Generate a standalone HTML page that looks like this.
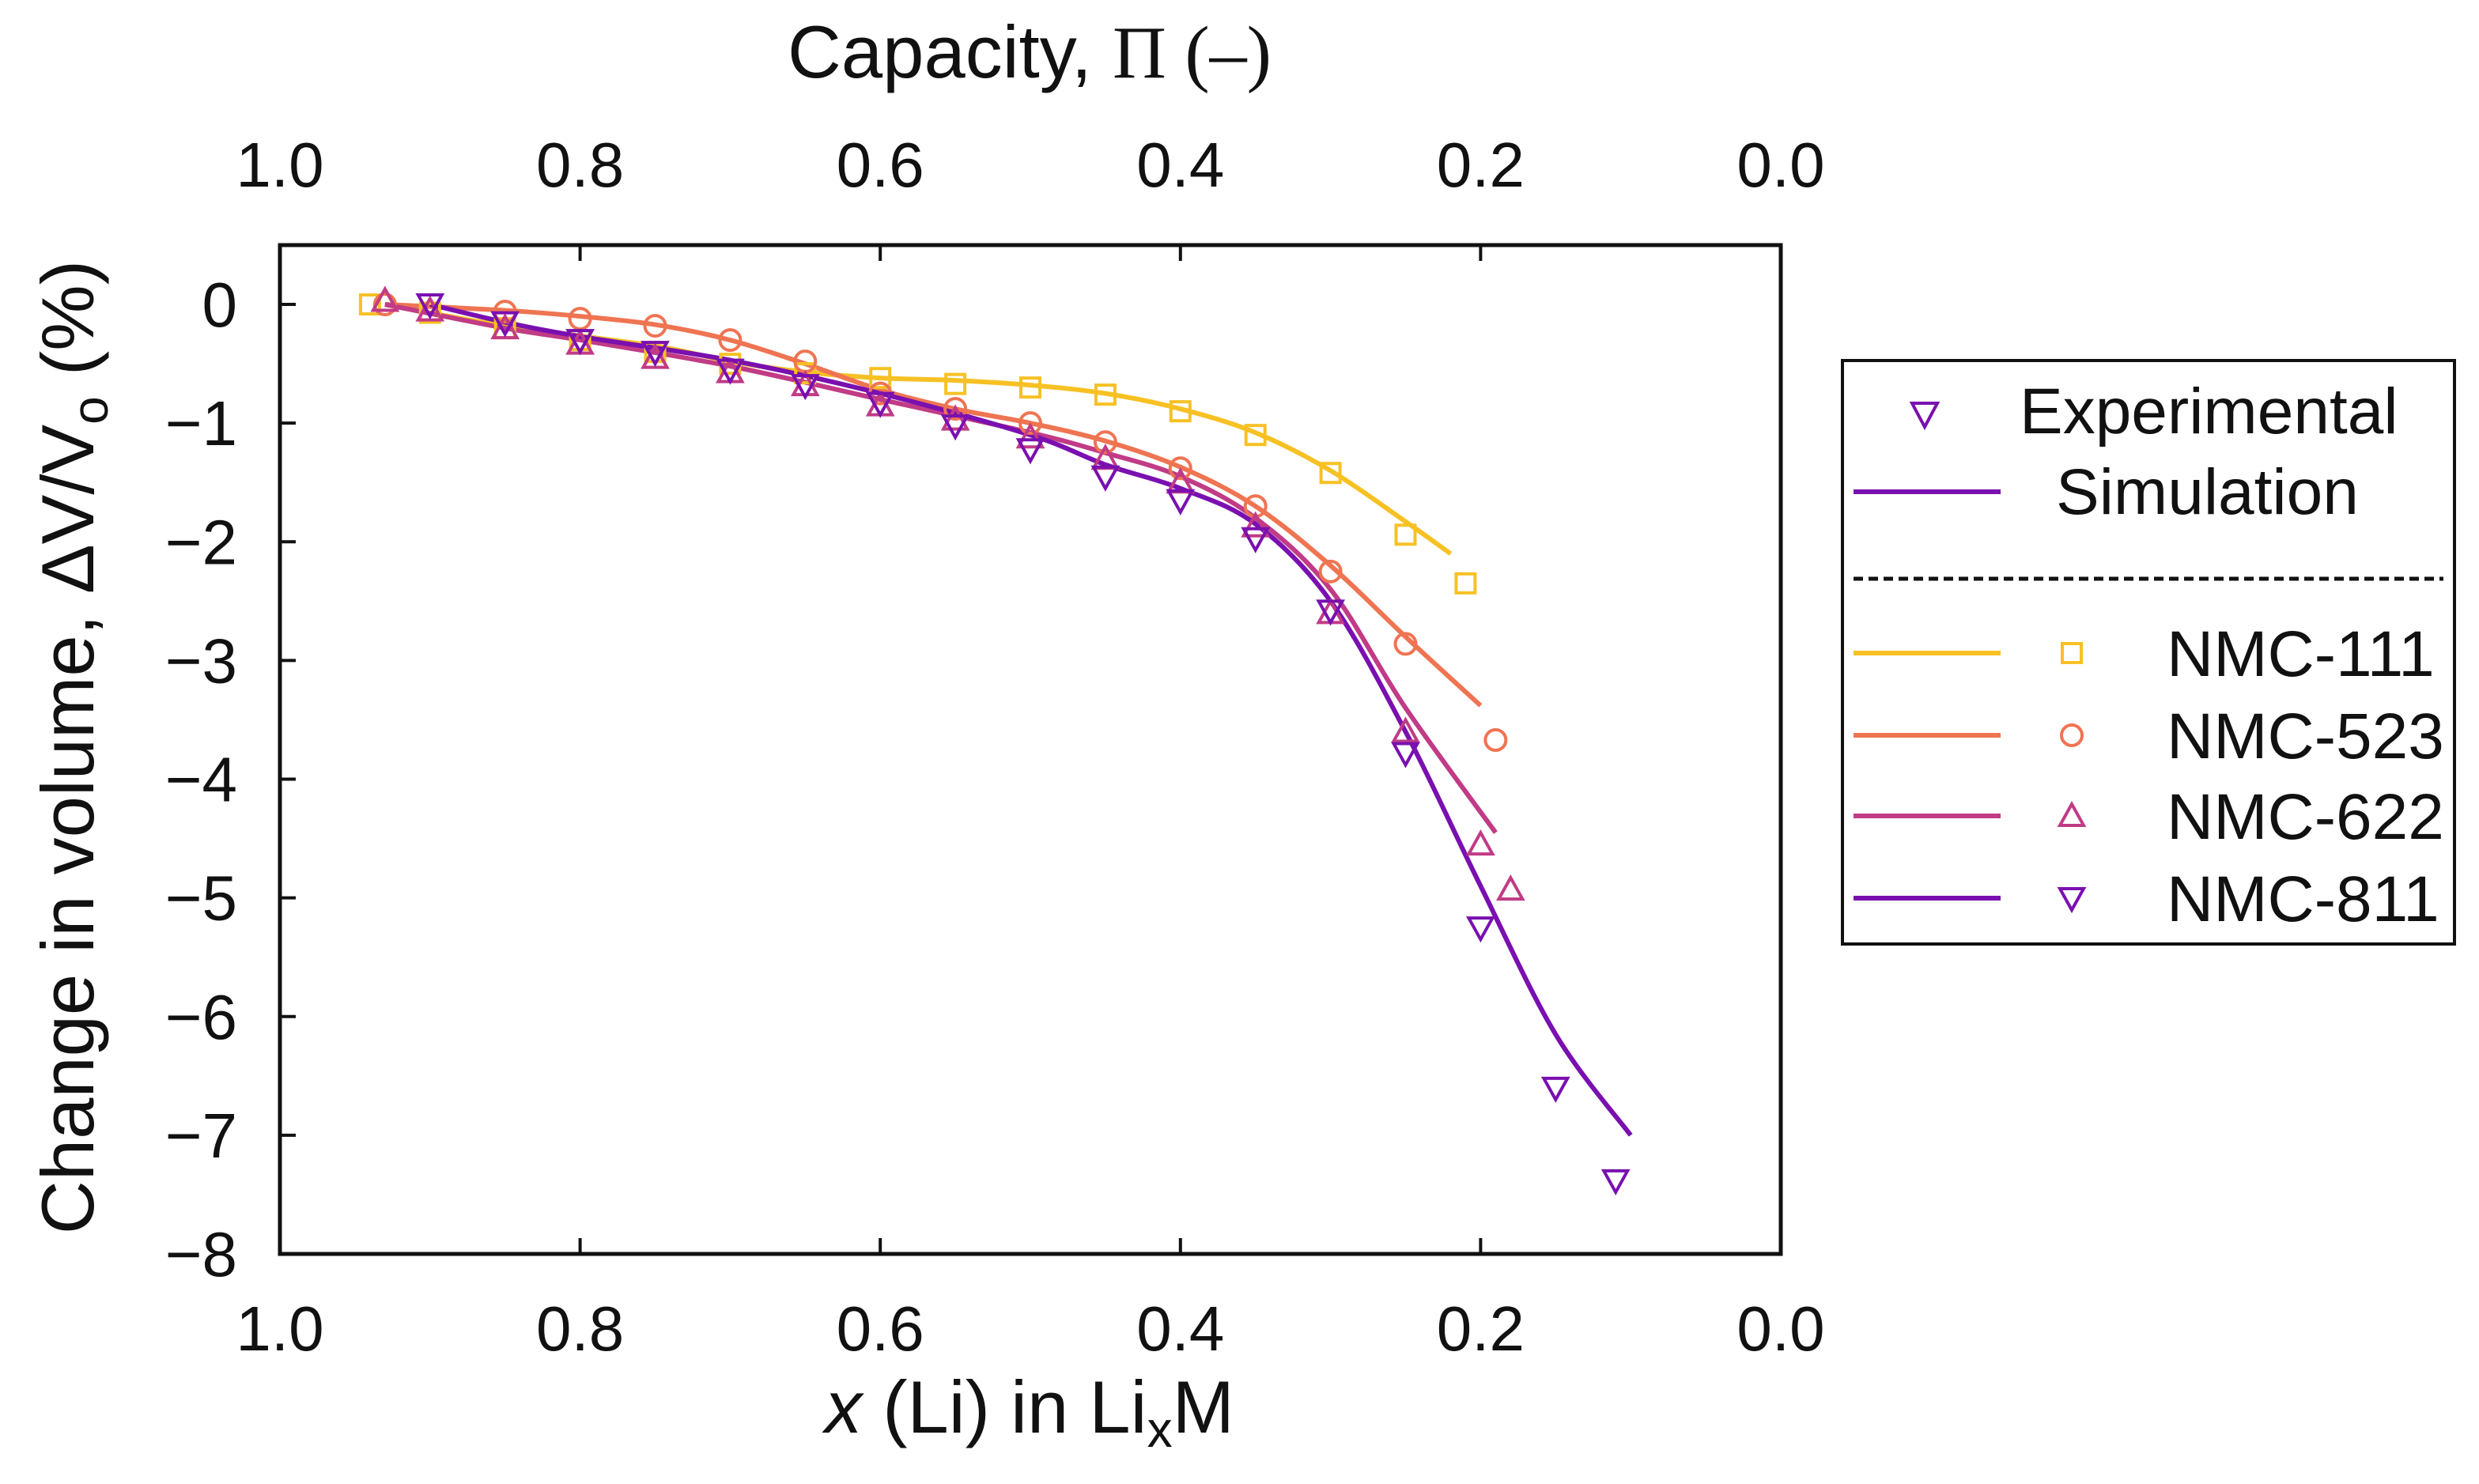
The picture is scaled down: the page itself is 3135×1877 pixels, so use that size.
<!DOCTYPE html>
<html><head><meta charset="utf-8"><style>html,body{margin:0;padding:0;background:#fff}svg{display:block}text{font-family:"Liberation Sans",sans-serif;fill:#111}</style></head>
<body>
<svg id="chart" width="3135" height="1877" viewBox="0 0 3135 1877" xmlns="http://www.w3.org/2000/svg">
<g id="plot"></g>
<g id="legend">
<rect x="2330" y="456" width="774" height="738" fill="#fff" stroke="#111" stroke-width="4"/>
<path d="M2418,510 L2450,510 L2434,540 Z" fill="none" stroke="#7a10b0" stroke-width="4"/>
<text x="2554" y="548" font-size="82">Experimental</text>
<line x1="2344" y1="622" x2="2530" y2="622" stroke="#7a10b0" stroke-width="6"/>
<text x="2600" y="650" font-size="82">Simulation</text>
<line x1="2344" y1="732" x2="3090" y2="732" stroke="#111" stroke-width="5" stroke-dasharray="12,7"/>
</g>
</svg>
<script>
const categories=["NMC-111","NMC-523","NMC-622","NMC-811"];
const colors=["#f7c124","#ef7452","#c13b86","#7a10b0"];
const markers=["square","circle","up","down"];
const exp111x=[0.94,0.9,0.85,0.8,0.75,0.7,0.65,0.6,0.55,0.5,0.45,0.4,0.35,0.3,0.25,0.21];
const exp111y=[0,-0.07,-0.2,-0.3,-0.4,-0.5,-0.58,-0.62,-0.67,-0.7,-0.76,-0.9,-1.1,-1.42,-1.94,-2.35];
const exp523x=[0.93,0.85,0.8,0.75,0.7,0.65,0.6,0.55,0.5,0.45,0.4,0.35,0.3,0.25,0.19];
const exp523y=[0,-0.06,-0.12,-0.18,-0.3,-0.48,-0.75,-0.88,-1.0,-1.16,-1.38,-1.7,-2.25,-2.86,-3.67];
const exp622x=[0.93,0.9,0.85,0.8,0.75,0.7,0.65,0.6,0.55,0.5,0.45,0.4,0.35,0.3,0.25,0.2,0.18];
const exp622y=[0.03,-0.05,-0.2,-0.33,-0.45,-0.57,-0.68,-0.85,-0.97,-1.12,-1.3,-1.5,-1.87,-2.6,-3.6,-4.55,-4.93];
const exp811x=[0.9,0.85,0.8,0.75,0.7,0.65,0.6,0.55,0.5,0.45,0.4,0.35,0.3,0.25,0.2,0.15,0.11];
const exp811y=[0,-0.15,-0.3,-0.4,-0.55,-0.68,-0.83,-1.02,-1.22,-1.45,-1.65,-1.97,-2.58,-3.78,-5.25,-6.6,-7.38];
const sim111x=[0.93,0.85,0.75,0.7,0.65,0.6,0.55,0.5,0.45,0.4,0.35,0.3,0.25,0.22];
const sim111y=[0,-0.18,-0.35,-0.48,-0.57,-0.62,-0.64,-0.68,-0.75,-0.88,-1.08,-1.4,-1.83,-2.1];
const sim523x=[0.93,0.85,0.8,0.75,0.7,0.65,0.6,0.55,0.5,0.45,0.4,0.35,0.3,0.25,0.2];
const sim523y=[0,-0.05,-0.1,-0.17,-0.3,-0.5,-0.72,-0.88,-1.0,-1.15,-1.37,-1.7,-2.2,-2.8,-3.38];
const sim622x=[0.93,0.85,0.8,0.7,0.6,0.5,0.45,0.4,0.35,0.3,0.25,0.19];
const sim622y=[0,-0.2,-0.3,-0.52,-0.8,-1.08,-1.25,-1.45,-1.8,-2.4,-3.4,-4.45];
const sim811x=[0.9,0.85,0.8,0.7,0.6,0.5,0.45,0.4,0.35,0.3,0.25,0.2,0.15,0.1];
const sim811y=[0,-0.15,-0.27,-0.47,-0.75,-1.1,-1.35,-1.55,-1.85,-2.5,-3.6,-4.9,-6.15,-7.0];
const xTicks=["1.0","0.8","0.6","0.4","0.2","0.0"];
const xTickVals=[1,0.8,0.6,0.4,0.2,0];
const yTickVals=[0,-1,-2,-3,-4,-5,-6,-7,-8];
const yTicks=["0","\u22121","\u22122","\u22123","\u22124","\u22125","\u22126","\u22127","\u22128"];

const L=354,R=2252,T=310,B=1586,YMAX=0.5,YMIN=-8;
const sx=v=>L+(1-v)*(R-L);
const sy=v=>T+(YMAX-v)/(YMAX-YMIN)*(B-T);
const NS="http://www.w3.org/2000/svg";
const plot=document.getElementById('plot');
function mk(tag,attrs,parent){const e=document.createElementNS(NS,tag);for(const k in attrs)e.setAttribute(k,attrs[k]);(parent||plot).appendChild(e);return e;}
function marker(type,cx,cy,color,parent){
  let e;
  if(type==="square")e=mk('rect',{x:cx-12,y:cy-12,width:24,height:24},parent);
  else if(type==="circle")e=mk('circle',{cx:cx,cy:cy,r:13},parent);
  else if(type==="up")e=mk('path',{d:`M${cx-15},${cy+12} L${cx+15},${cy+12} L${cx},${cy-15} Z`},parent);
  else e=mk('path',{d:`M${cx-15},${cy-12} L${cx+15},${cy-12} L${cx},${cy+15} Z`},parent);
  e.setAttribute('fill','none');e.setAttribute('stroke',color);e.setAttribute('stroke-width','4');
  return e;
}
function smooth(px,py){
  const p=px.map((x,i)=>[sx(x),sy(py[i])]);
  let d=`M${p[0][0]},${p[0][1]}`;
  for(let i=0;i<p.length-1;i++){
    const p0=p[i-1]||p[i],p1=p[i],p2=p[i+1],p3=p[i+2]||p2;
    const c1=[p1[0]+(p2[0]-p0[0])/6,p1[1]+(p2[1]-p0[1])/6];
    const c2=[p2[0]-(p3[0]-p1[0])/6,p2[1]-(p3[1]-p1[1])/6];
    d+=` C${c1[0]},${c1[1]} ${c2[0]},${c2[1]} ${p2[0]},${p2[1]}`;
  }
  return d;
}
const frame=mk('rect',{x:L,y:T,width:R-L,height:B-T,fill:'none',stroke:'#111','stroke-width':5});


xTickVals.forEach((v,i)=>{
  const x=sx(v);
  mk('line',{x1:x,y1:B,x2:x,y2:B-20,stroke:'#111','stroke-width':4});
  mk('line',{x1:x,y1:T,x2:x,y2:T+20,stroke:'#111','stroke-width':4});
  const t=mk('text',{x:x,y:1708,'font-size':80,'text-anchor':'middle'});t.textContent=xTicks[i];
  
  
  const t2=mk('text',{x:x,y:236,'font-size':80,'text-anchor':'middle'});t2.textContent=xTicks[i];
  
  
});
yTickVals.forEach((v,i)=>{
  const y=sy(v);
  mk('line',{x1:L,y1:y,x2:L+20,y2:y,stroke:'#111','stroke-width':4});
  const t=mk('text',{x:300,y:y+28,'font-size':80,'text-anchor':'end'});t.textContent=yTicks[i];
  
  
});
const sims=[[sim111x,sim111y],[sim523x,sim523y],[sim622x,sim622y],[sim811x,sim811y]];
const exps=[[exp111x,exp111y],[exp523x,exp523y],[exp622x,exp622y],[exp811x,exp811y]];
sims.forEach((s,i)=>{
  const p=mk('path',{d:smooth(s[0],s[1]),fill:'none',stroke:colors[i],'stroke-width':6});
  
  
});
exps.forEach((s,i)=>{
  s[0].forEach((x,j)=>{
    const m=marker(markers[i],sx(x),sy(s[1][j]),colors[i]);
    
    
  });
});
let t=mk('text',{x:1302,y:98,'font-size':94,'text-anchor':'middle'});
t.innerHTML='Capacity, <tspan font-family="Liberation Serif">\u03A0 (\u2013)</tspan>';


t=mk('text',{x:1302,y:1812,'font-size':94,'text-anchor':'middle'});
t.innerHTML='<tspan font-style="italic">x</tspan> (Li) in Li<tspan font-size="64" dy="18">x</tspan><tspan dy="-18">M</tspan>';


t=mk('text',{x:0,y:0,'font-size':94,'text-anchor':'middle',transform:'translate(118,945) rotate(-90)'});
t.innerHTML='Change in volume, \u0394V/V<tspan font-size="64" dy="18">o</tspan><tspan dy="-18"> (%)</tspan>';


const lg=document.getElementById('legend');
const rowY=[826,930,1032,1136];
categories.forEach((c,i)=>{
  const y=rowY[i];
  const l=mk('line',{x1:2344,y1:y,x2:2530,y2:y,stroke:colors[i],'stroke-width':6},lg);
  
  
  const m=marker(markers[i],2620,y,colors[i],lg);
  
  
  const tx=mk('text',{x:2740,y:y+29,'font-size':82},lg);tx.textContent=c;
  
  
});
</script>
</body></html>
